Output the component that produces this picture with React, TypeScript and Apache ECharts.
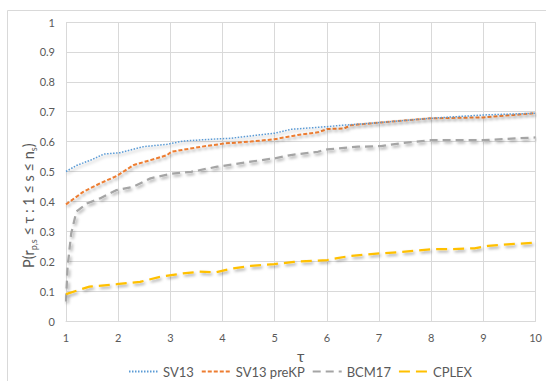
import React, { useEffect, useRef } from "react";
import * as echarts from "echarts";

const sv13Tau = [1, 1.2, 1.5, 1.72, 2.04, 2.48, 2.94, 3.25, 3.9, 4.15, 4.54, 5.0, 5.31, 6.0, 6.33, 7.04, 8.0, 9.0, 10];
const sv13Val = [0.5, 0.52, 0.54, 0.558, 0.563, 0.583, 0.591, 0.602, 0.609, 0.611, 0.619, 0.628, 0.641, 0.65, 0.655, 0.664, 0.678, 0.689, 0.695];

const preKPTau = [1, 1.33, 1.65, 1.97, 2.3, 2.62, 2.94, 3.02, 3.6, 4.05, 4.54, 5.0, 5.44, 5.83, 6.01, 6.33, 6.46, 7.04, 8.0, 9.0, 10];
const preKPVal = [0.39, 0.432, 0.46, 0.485, 0.522, 0.538, 0.555, 0.566, 0.583, 0.594, 0.6, 0.608, 0.622, 0.631, 0.642, 0.644, 0.655, 0.664, 0.678, 0.681, 0.695];

const bcmTau = [1, 1.03, 1.1, 1.2, 1.4, 1.65, 1.97, 2.29, 2.62, 3.0, 3.4, 3.9, 4.54, 5.0, 5.31, 5.83, 6.01, 6.6, 7.04, 7.4, 8.0, 9.0, 10];
const bcmVal = [0.065, 0.18, 0.293, 0.366, 0.393, 0.41, 0.438, 0.449, 0.477, 0.492, 0.499, 0.516, 0.533, 0.544, 0.555, 0.566, 0.574, 0.583, 0.585, 0.594, 0.605, 0.605, 0.614];

const cplexTau = [1, 1.45, 1.97, 2.42, 2.81, 3.24, 3.56, 3.88, 4.14, 4.54, 4.99, 5.37, 6.01, 6.2, 6.46, 7.01, 7.42, 8.0, 8.32, 8.83, 9.09, 9.6, 10];
const cplexVal = [0.09, 0.115, 0.123, 0.131, 0.148, 0.159, 0.165, 0.163, 0.174, 0.184, 0.19, 0.198, 0.204, 0.21, 0.218, 0.226, 0.231, 0.24, 0.24, 0.243, 0.251, 0.258, 0.262];

const seriesNames = ["SV13", "SV13 preKP", "BCM17", "CPLEX"];
const yAxisTitle = "{m|P(r}{s|p,s}{m| ≤ τ : 1 ≤ s ≤ n}{s|s}{m|)}";

const pairs = (xs: number[], ys: number[]) => xs.map((x, i) => [x, ys[i]]);

const FONT = "Lato, 'Open Sans', sans-serif";
const shadow = {
  shadowColor: "rgba(0,0,0,0.35)",
  shadowBlur: 3,
  shadowOffsetX: 1.5,
  shadowOffsetY: 2,
};

export default function App() {
  const ref = useRef<HTMLDivElement>(null);
  useEffect(() => {
    if (!ref.current) return;
    const chart = echarts.init(ref.current, undefined, { renderer: "svg" });
    chart.setOption({
      animation: false,
      backgroundColor: "#ffffff",
      graphic: [
        {
          type: "rect",
          shape: { x: 7.5, y: 10.5, width: 560, height: 400 },
          style: { fill: "none", stroke: "#D9D9D9", lineWidth: 1 },
          silent: true,
          z: -1,
        },
        {
          type: "text",
          x: 28,
          y: 268,
          rotation: Math.PI / 2,
          silent: true,
          style: {
            text: yAxisTitle,
            align: "left",
            verticalAlign: "middle",
            fill: "#595959",
            font: "14px " + FONT,
            rich: {
              m: { fontFamily: FONT, fontSize: 14.5, fill: "#595959", lineHeight: 20 },
              s: { fontFamily: FONT, fontSize: 9, fill: "#595959", lineHeight: 20, verticalAlign: "bottom" },
            },
          },
        },
      ],
      grid: { left: 66, top: 22, right: 10.5, bottom: 60, containLabel: false },
      legend: {
        bottom: 3,
        left: 128,
        padding: 0,
        itemWidth: 29,
        itemHeight: 10,
        itemGap: 7,
        itemStyle: { opacity: 0 },
        textStyle: { fontFamily: FONT, fontSize: 13, color: "#595959" },
        data: seriesNames,
      },
      xAxis: {
        type: "value",
        min: 1,
        max: 10,
        interval: 1,
        name: "τ",
        nameLocation: "middle",
        nameGap: 16,
        nameTextStyle: { fontFamily: FONT, fontSize: 16, color: "#595959" },
        axisLine: { show: true, lineStyle: { color: "#D9D9D9" } },
        axisTick: { show: false },
        axisLabel: { fontFamily: FONT, fontSize: 11, color: "#595959", margin: 11 },
        splitLine: { show: true, lineStyle: { color: "#D9D9D9" } },
      },
      yAxis: {
        type: "value",
        min: 0,
        max: 1,
        interval: 0.1,
        axisLine: { show: false },
        axisTick: { show: false },
        axisLabel: { fontFamily: FONT, fontSize: 11, color: "#595959", margin: 11 },
        splitLine: { show: true, lineStyle: { color: "#D9D9D9" } },
      },
      series: [
        {
          name: seriesNames[0],
          type: "line",
          data: pairs(sv13Tau, sv13Val),
          showSymbol: false,
          symbol: "none",
          itemStyle: { color: "#5B9BD5" },
          lineStyle: { color: "#5B9BD5", width: 1.5, type: [1.5, 1.5], ...shadow },
          z: 4,
        },
        {
          name: seriesNames[1],
          type: "line",
          data: pairs(preKPTau, preKPVal),
          showSymbol: false,
          symbol: "none",
          itemStyle: { color: "#ED7D31" },
          lineStyle: { color: "#ED7D31", width: 2, type: [4, 2], ...shadow },
          z: 3,
        },
        {
          name: seriesNames[2],
          type: "line",
          data: pairs(bcmTau, bcmVal),
          showSymbol: false,
          symbol: "none",
          itemStyle: { color: "#A5A5A5" },
          lineStyle: { color: "#A5A5A5", width: 2.25, type: [8, 5], ...shadow },
          z: 2,
        },
        {
          name: seriesNames[3],
          type: "line",
          data: pairs(cplexTau, cplexVal),
          showSymbol: false,
          symbol: "none",
          itemStyle: { color: "#FFC000" },
          lineStyle: { color: "#FFC000", width: 2.25, type: [11, 6], ...shadow },
          z: 2,
        },
      ],
    });
    return () => chart.dispose();
  }, []);
  return (
    <div
      ref={ref}
      style={{ position: "absolute", left: 0, top: 0, width: 546, height: 381 }}
    />
  );
}
